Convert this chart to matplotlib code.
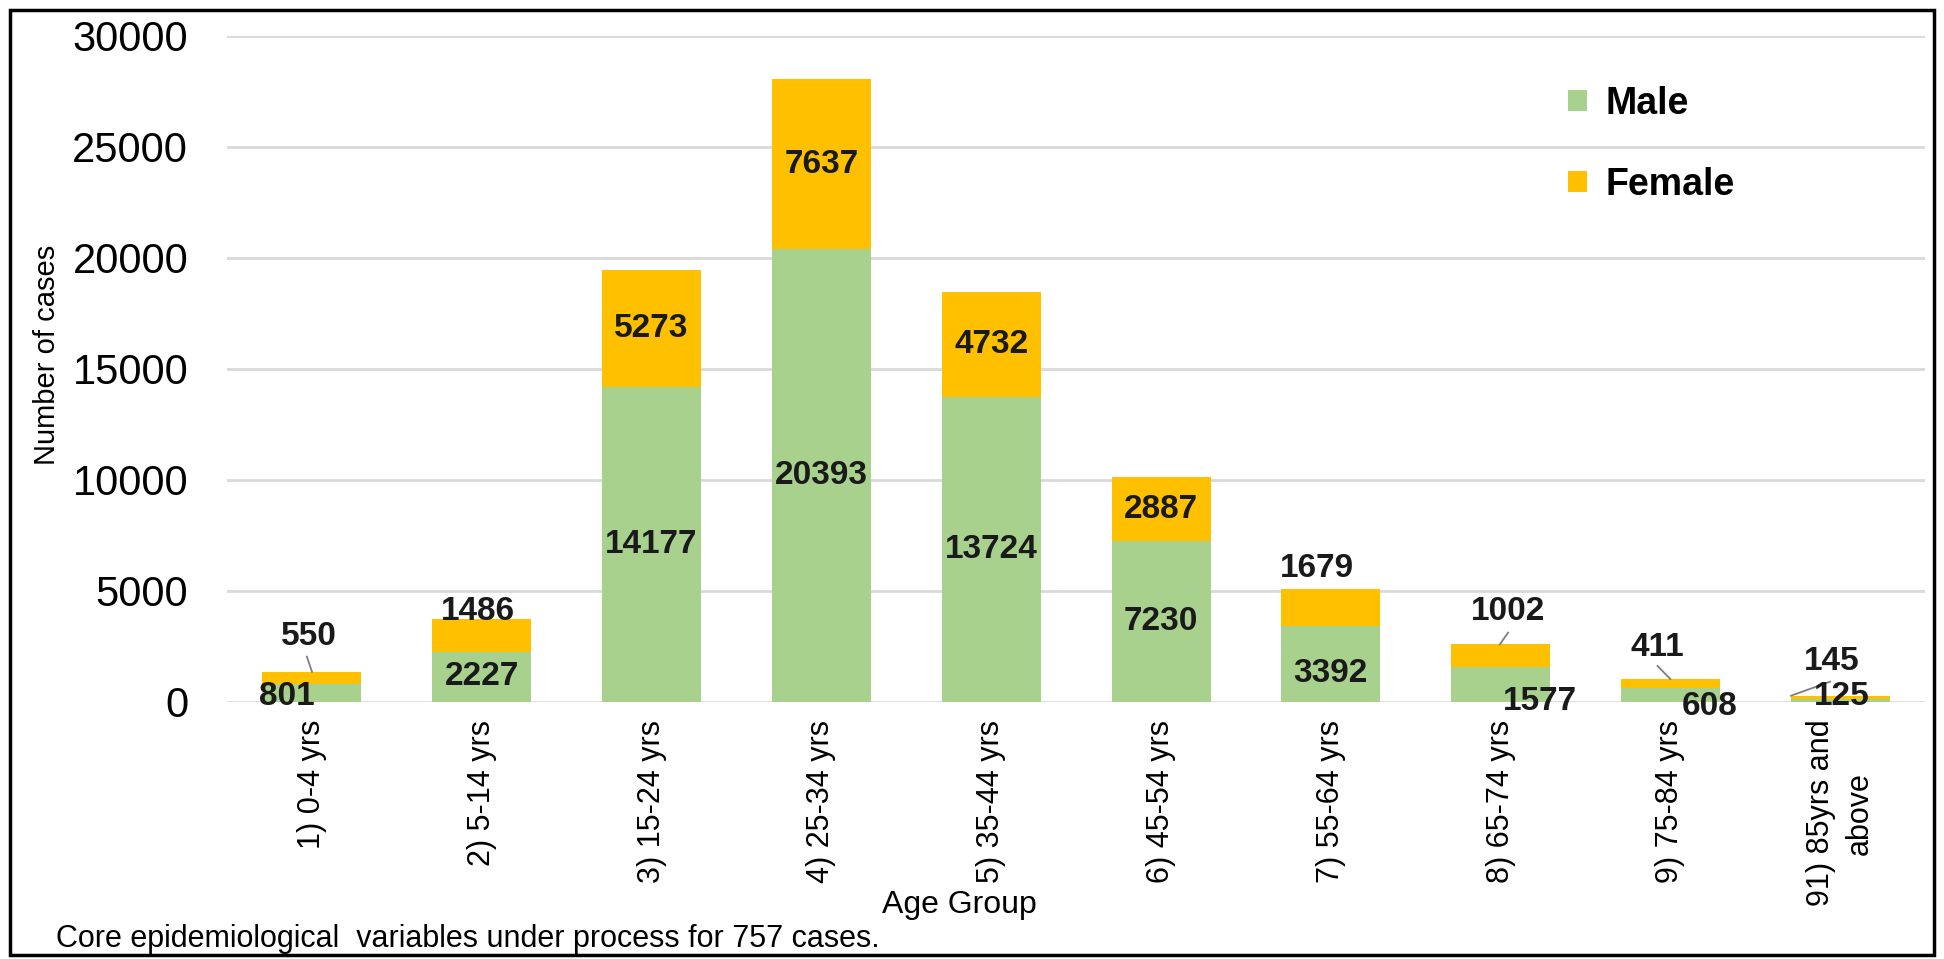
import numpy as np
import matplotlib
matplotlib.use('Agg')
from matplotlib import pyplot as plt
from matplotlib.patches import Rectangle

plt.rcParams['font.family'] = ['Liberation Sans', 'DejaVu Sans']

# datos
age_groups = ['1) 0-4 yrs', '2) 5-14 yrs', '3) 15-24 yrs', '4) 25-34 yrs', '5) 35-44 yrs',
              '6) 45-54 yrs', '7) 55-64 yrs', '8) 65-74 yrs', '9) 75-84 yrs', '91) 85yrs and\nabove']
male = [801, 2227, 14177, 20393, 13724, 7230, 3392, 1577, 608, 125]
female = [550, 1486, 5273, 7637, 4732, 2887, 1679, 1002, 411, 145]

c_male = '#A9D18E'
c_female = '#FFC000'

fig = plt.figure(figsize=(19.44, 9.59), dpi=100)
ax = fig.add_axes([0.1168, 0.2683, 0.8735, 0.6945])

x = np.arange(len(age_groups))
w = 0.583
ax.bar(x, male, w, color=c_male, label='Male', zorder=2)
ax.bar(x, female, w, bottom=male, color=c_female, label='Female', zorder=2)

ax.set_ylim(0, 30000)
ax.set_xlim(-0.5, len(age_groups) - 0.5)
ax.set_yticks(np.arange(0, 30001, 5000))
ax.yaxis.grid(True, color='#D9D9D9', linewidth=2, zorder=0)
ax.set_axisbelow(True)
for s in ax.spines.values():
    s.set_visible(False)
ax.tick_params(axis='y', length=0, labelsize=30, pad=28)
ax.set_xticks(x)
ax.set_xticklabels(age_groups, rotation=90, va='top', ha='center', fontsize=22,
                   linespacing=1.4)
ax.tick_params(axis='x', length=0, pad=13)
ax.set_ylabel('Number of cases', fontsize=21)
ax.yaxis.set_label_coords(-0.098, 0.52)

fig.text(0.4933, 0.0563, 'Age Group', fontsize=23, ha='center', va='center')

# etiquetas de datos (posicion por defecto: centro del segmento)
lab_kw = dict(ha='center', va='center', fontsize=24, fontweight='bold', color='#1a1a1a', zorder=4)
male_pos = {0: (-0.15, 225), 6: (0.0, 1250), 7: (0.23, 0), 8: (0.23, -225), 9: (0.01, 225)}
female_pos = {0: (-0.02, 2930), 1: (-0.02, 4054), 6: (-0.08, 6015), 7: (0.044, 4054),
              8: (-0.08, 2450), 9: (-0.05, 1800)}
# lineas guia: (dx inicio, y inicio, dx final) -> termina en la parte alta de la barra
leader = {0: (-0.03, 2030, 0.0), 7: (0.044, 3110, -0.005), 8: (-0.076, 1610, 0.0),
          9: (-0.06, 900, -0.29)}

for i in range(len(x)):
    dx, yy = male_pos.get(i, (0, male[i] / 2))
    ax.text(x[i] + dx, yy, str(male[i]), **lab_kw)
    top = male[i] + female[i]
    dx, yy = female_pos.get(i, (0, male[i] + female[i] / 2))
    ax.text(x[i] + dx, yy, str(female[i]), **lab_kw)
    if i in leader:
        x0, y0, x1 = leader[i]
        ax.plot([x[i] + x0, x[i] + x1], [y0, top], color='#7f7f7f', lw=1.3, zorder=3)

leg = ax.legend(loc='upper left', bbox_to_anchor=(0.77, 0.975), frameon=False,
                prop={'size': 27, 'weight': 'bold'}, handlelength=0.5, handleheight=0.5,
                labelspacing=1.2, handletextpad=0.5)

fig.text(0.029, 0.021, 'Core epidemiological  variables under process for 757 cases.',
         fontsize=22, va='center', ha='left')

# marco de la figura
fig.patches.append(Rectangle((0.005, 0.004), 0.99, 0.986, transform=fig.transFigure,
                             fill=False, edgecolor='black', linewidth=2.5))

fig.savefig('out.png', dpi=100)
